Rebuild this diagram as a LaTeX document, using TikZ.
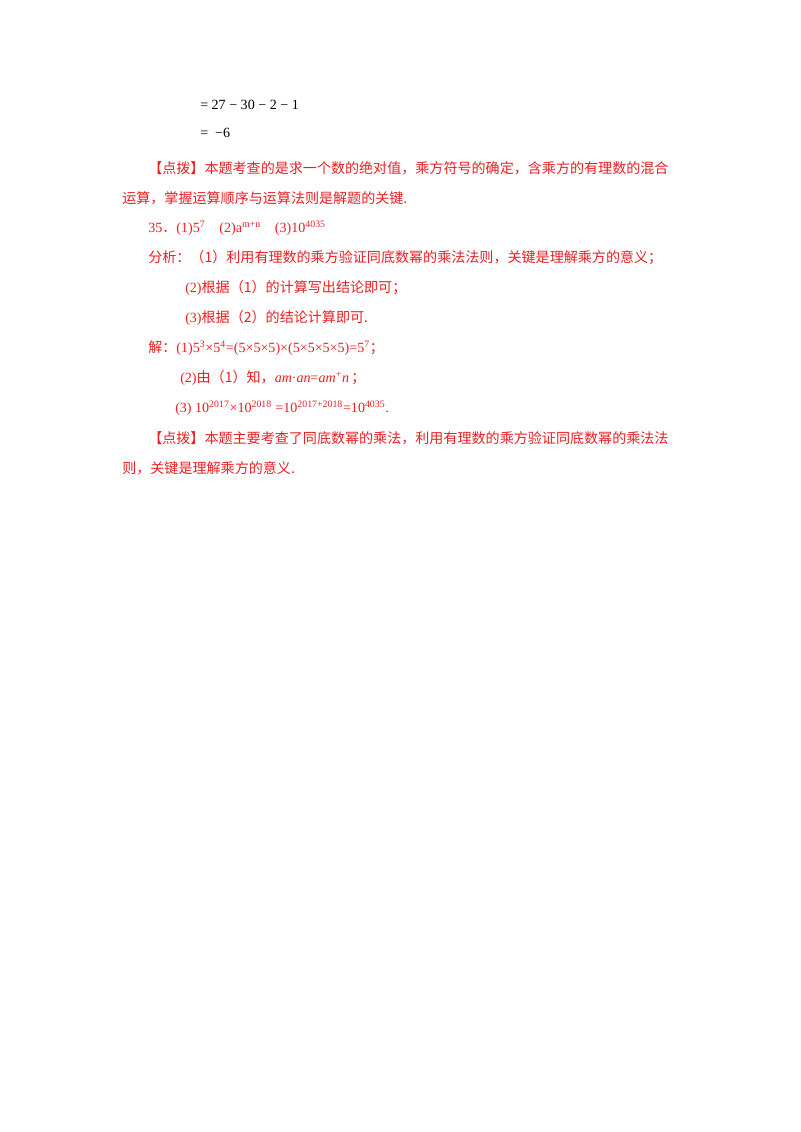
\documentclass[tikz,border=0pt]{standalone}
\usepackage{fontspec}
\setmainfont{Liberation Serif}
\newfontfamily\cjk{Noto Sans CJK SC}
\definecolor{rd}{RGB}{235,30,35}
\newcommand{\sups}[1]{\textsuperscript{#1}}
\begin{document}
\begin{tikzpicture}[x=0.02625cm,y=-0.02625cm,
  txt/.style={anchor=west,inner sep=0,text=rd,font=\fontsize{10.5pt}{12pt}\selectfont},
  blk/.style={anchor=west,inner sep=0,font=\fontsize{10.5pt}{12pt}\selectfont}]
\useasboundingbox (0,0) rectangle (800,1132);
\node[blk] (l1) at (200,105) {= 27 − 30 − 2 − 1};
\node[blk] (l2) at (200,133) {=\ \ −6};
\node[txt] (l3) at (148,168) {\cjk 【点拨】本题考查的是求一个数的绝对值，乘方符号的确定，含乘方的有理数的混合};
\node[txt] (l4) at (122,198) {\cjk 运算，掌握运算顺序与运算法则是解题的关键.};
\node[txt] (l5) at (148,228) {35{\cjk ．}(1)5\sups{7}\quad(2)a\sups{m+n}\quad(3)10\sups{4035}};
\node[txt] (l6) at (148,258) {\cjk 分析：（1）利用有理数的乘方验证同底数幂的乘法法则，关键是理解乘方的意义；};
\node[txt] (l7) at (185,288) {(2){\cjk 根据（1）的计算写出结论即可；}};
\node[txt] (l8) at (185,318) {(3){\cjk 根据（2）的结论计算即可.}};
\node[txt] (l9) at (148,348) {{\cjk 解：}(1)5\sups{3}×5\sups{4}=(5×5×5)×(5×5×5×5)=5\sups{7}{\cjk ；}};
\node[txt] (l10) at (180,378) {(2){\cjk 由（1）知，}\textit{am}·\textit{an}=\textit{am}\sups{+}\textit{n}\,{\cjk ；}};
\node[txt] (l11) at (175,408) {(3) 10\sups{2017}×10\sups{2018} =10\sups{2017+2018}=10\sups{4035}.};
\node[txt] (l12) at (148,438) {\cjk 【点拨】本题主要考查了同底数幂的乘法，利用有理数的乘方验证同底数幂的乘法法};
\node[txt] (l13) at (122,468) {\cjk 则，关键是理解乘方的意义.};
\end{tikzpicture}
\end{document}
